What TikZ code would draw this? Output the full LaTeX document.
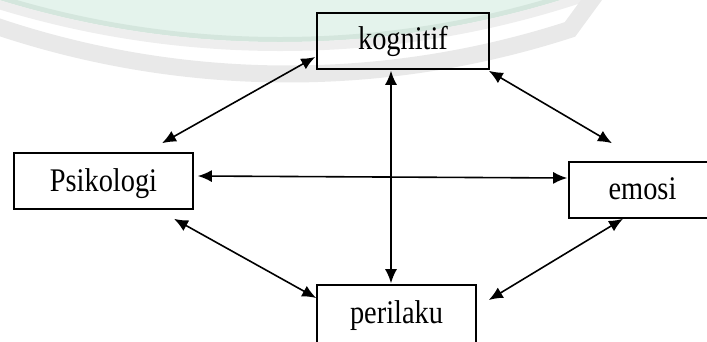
\documentclass[tikz,border=0pt]{standalone}
\usepackage{fontspec}
\setmainfont{Liberation Serif}
\newfontfamily\boxfont{Liberation Serif}[FakeStretch=0.86]
\usetikzlibrary{arrows.meta,calc}
\definecolor{wmgreen}{RGB}{228,243,236}
\definecolor{wmgreendark}{RGB}{212,230,221}
\definecolor{wmgray}{RGB}{233,233,233}
\definecolor{wmgraylight}{RGB}{238,238,238}
\tikzset{
  box/.style={draw=black, line width=1.6pt, minimum height=56pt, inner sep=0pt,
    text height=21pt, text depth=2pt, font=\boxfont\fontsize{33}{40}\selectfont},
  dbl/.style={line width=1.6pt, black, arrows={Latex[length=14pt,width=12pt]-Latex[length=14pt,width=12pt]}}
}
\begin{document}
\begin{tikzpicture}[x=1pt,y=-1pt]
\clip (0,0) rectangle (707,341);
% faint watermark
\begin{scope}[y=1pt]
  \fill[wmgreen] (280,912) circle[radius=954pt];
  \draw[wmgreendark, line width=5pt] (280,912) circle[radius=951.5pt];
  \draw[wmgraylight, line width=9pt] (280,912) circle[radius=958.5pt];
  \draw[wmgray, line width=17pt] (288,840) ++(-110:914pt)
     arc[start angle=-110, end angle=-72.03, radius=914pt] -- (601,13);
\end{scope}
% nodes
\node[box, minimum width=172pt, text depth=5pt] (kog) at (403,41) {kognitif};
\node[box, minimum width=179pt, text depth=0pt] (ps) at (103.5,181) {Psikologi};
\node[box, minimum width=147pt] (em) at (642.5,190) {emosi};
\node[box, minimum width=159pt, minimum height=58pt] (pe) at (396.5,314) {perilaku};
% connectors
\draw[dbl] ($(kog.west)+(-1,16)$) -- ($(ps.north)+(58.5,-9)$);
\draw[dbl] ($(kog.south east)+(-1,1)$) -- ($(em.north)+(-30.5,-18)$);
\coordinate (v1) at ($(kog.south)+(-12,1)$);
\draw[dbl] (v1) -- ($(v1 |- pe.north)+(0,-1)$);
\draw[dbl] ($(ps.east)+(4,-5)$) -- ($(em.west)+(-1,-12)$);
\draw[dbl] ($(ps.south)+(70.5,9)$) -- ($(pe.west)+(0,-16)$);
\draw[dbl] ($(em.south)+(-19.5,0)$) -- ($(pe.east)+(12,-14)$);
\end{tikzpicture}
\end{document}
